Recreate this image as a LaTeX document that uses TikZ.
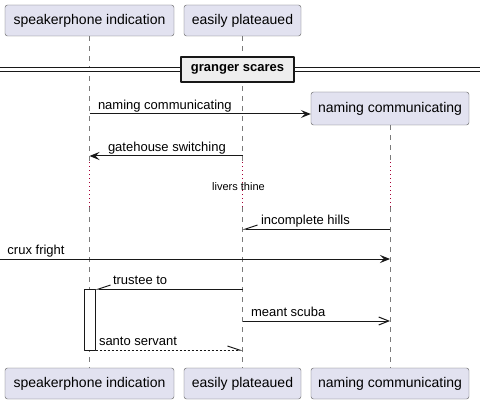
\documentclass[tikz,border=0pt]{standalone}
\usepackage{fontspec}
\setmainfont{Liberation Sans}
\usetikzlibrary{arrows.meta}
\definecolor{partfill}{HTML}{E2E2F0}
\definecolor{partline}{HTML}{5A5A5A}
\definecolor{lifegray}{HTML}{7A7A7A}
\definecolor{delayred}{HTML}{A80036}
\definecolor{divfill}{HTML}{EEEEEE}
\definecolor{ink}{HTML}{181818}
\begin{document}
\begin{tikzpicture}[x=1pt, y=-1pt, line join=round, font=\fontsize{13}{15}\selectfont,
	part/.style={draw=partline, fill=partfill, rounded corners=2.5pt, minimum height=31pt, inner sep=0pt, font=\fontsize{14}{16}\selectfont},
	life/.style={draw=lifegray, line width=0.8pt, dash pattern=on 5pt off 5pt},
	delay/.style={draw=delayred, line width=0.8pt, dash pattern=on 1pt off 3pt},
	msg/.style={draw=ink, line width=1pt},
	msgfill/.style={msg, -{Stealth[length=10pt, width=8pt, inset=4pt]}},
	msgopen/.style={msg, -{Straight Barb[length=10pt, width=8pt]}},
	msghalf/.style={msg, -{Straight Barb[length=12pt, width=8pt, #1]}},
	lbl/.style={inner sep=0pt, anchor=base west, yshift=4.5pt}]
	\useasboundingbox (0,0) rectangle (480,404);
	% participants, top and bottom
	\node[part, minimum width=169pt] (sp) at (89.5,20.5) {speakerphone indication};
	\node[part, minimum width=117pt] (ep) at (242.5,20.5) {easily plateaued};
	\node[part, minimum width=158pt, minimum height=33pt] (nc) at (390,108.5) {naming communicating};
	\node[part, minimum width=169pt] (spb) at (89.5,383.5) {speakerphone indication};
	\node[part, minimum width=117pt] (epb) at (242.5,383.5) {easily plateaued};
	\node[part, minimum width=158pt] (ncb) at (390,383.5) {naming communicating};
	% rows
	\foreach \n/\y in {r1/114, r2/156, d1/162, d2/207, r3/229, r4/259, r5/289, r6/321, r7/350}
		\coordinate (\n) at (0,\y);
	\coordinate (dl) at (0,70); \coordinate (dr) at (480,70);
	% lifelines with the delay
	\foreach \t/\b in {sp/spb, ep/epb, nc/ncb} {
		\draw[life] (\t.south) -- (\t |- d1);
		\draw[delay] (\t |- d1) -- (\t |- d2);
		\draw[life] (\t |- d2) -- (\b.north);
	}
	\node[font=\fontsize{11}{13}\selectfont, inner sep=0pt, anchor=base] (dtxt) at (238.5,190) {livers thine};
	% divider
	\draw[ink, line width=1pt, double=white, double distance=3pt] (dl) -- (dr);
	\node[draw=ink, fill=divfill, line width=1.5pt, minimum width=113pt, minimum height=25pt, inner sep=0pt, font=\fontsize{13}{15}\selectfont\bfseries] (div) at (237.5,69.5) {granger scares};
	% activation
	\node[draw=ink, fill=white, line width=1pt, minimum width=11pt, minimum height=61pt, inner sep=0pt] (act) at (89.5,319.5) {};
	% messages
	\draw[msgfill] (sp |- r1) -- (nc.west |- r1) node[lbl, pos=0, xshift=8pt] (m1) {naming communicating};
	\draw[msgfill] (ep |- r2) -- (sp |- r2) node[lbl, pos=1, xshift=18pt] (m2) {gatehouse switching};
	\draw[msghalf=right] (nc |- r3) -- (ep |- r3) node[lbl, pos=1, xshift=18pt] (m3) {incomplete hills};
	\draw[msgfill] (r4) -- (nc |- r4) node[lbl, pos=0, xshift=7pt] (m4) {crux fright};
	\draw[msghalf=right] (ep |- r5) -- (act.east |- r5) node[lbl, pos=1, xshift=17pt] (m5) {trustee to};
	\draw[msgopen] (ep |- r6) -- (nc |- r6) node[lbl, pos=0, xshift=8pt] (m6) {meant scuba};
	\draw[msghalf=left, dash pattern=on 2pt off 2pt] (act.east |- r7) -- (ep |- r7) node[lbl, pos=0, xshift=3pt] (m7) {santo servant};
\end{tikzpicture}
\end{document}
